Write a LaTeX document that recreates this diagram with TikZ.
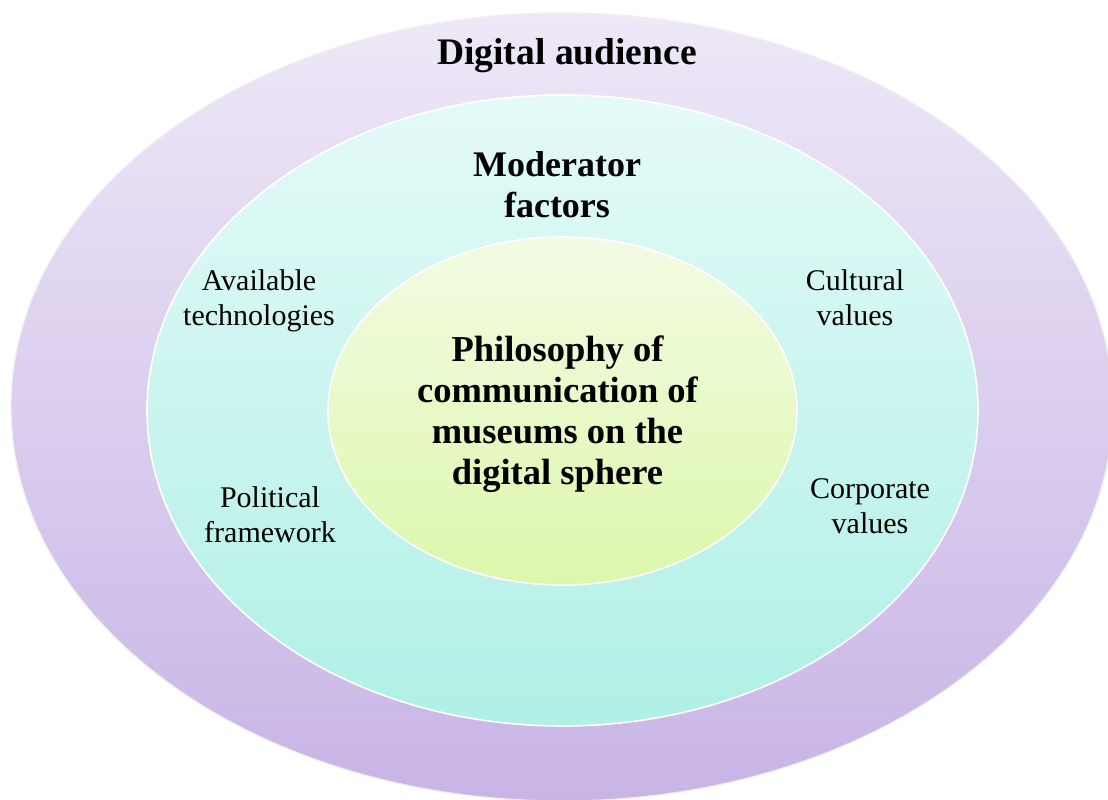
\documentclass[tikz,border=0pt]{standalone}
\usepackage{fontspec}
\setmainfont{Liberation Serif}
\usetikzlibrary{shapes.geometric}
\definecolor{outerTop}{HTML}{EEE8F7}
\definecolor{outerBot}{HTML}{C8B4E6}
\definecolor{midTop}{HTML}{E4FAF7}
\definecolor{midBot}{HTML}{B0F0E6}
\definecolor{innTop}{HTML}{F3FBE3}
\definecolor{innBot}{HTML}{DCF8AC}
\tikzset{
  ring/.style={ellipse, inner sep=0pt, draw=white, line width=1.6pt},
  bigtitle/.style={font=\fontsize{36}{41}\selectfont\bfseries, align=center, inner sep=0pt},
  audtitle/.style={font=\fontsize{37.5}{41}\selectfont\bfseries, inner sep=0pt},
  coretitle/.style={font=\fontsize{36.5}{41.3}\selectfont\bfseries, align=center, inner sep=0pt},
  factor/.style={font=\fontsize{30}{35}\selectfont, align=center, inner sep=0pt}
}
\begin{document}
\begin{tikzpicture}[x=1pt, y=-1pt]
  \useasboundingbox (0,0) rectangle (1108,800);
  \clip (0,0) rectangle (1108,800);
  \fill[white] (0,0) rectangle (1108,800);

  % nested rings
  \node[ring, draw=black!6, line width=1.2pt, top color=outerTop, bottom color=outerBot,
        minimum width=1102pt, minimum height=788pt] (outer) at (562,407) {};
  \node[ring, top color=midTop, bottom color=midBot,
        minimum width=831pt, minimum height=631pt] (middle) at (562.5,410.5) {};
  \node[ring, top color=innTop, bottom color=innBot,
        minimum width=469pt, minimum height=348pt] (inner) at (562.5,411) {};

  % ring titles
  \node[audtitle, anchor=base] (audience) at (567,64) {Digital audience};
  \node[bigtitle] (moderator) at (557,188.3) {\strut Moderator\\\strut factors};
  \node[coretitle] (philosophy) at (557.5,414.7)
    {\strut Philosophy of\\\strut communication of\\\strut museums on the\\\strut digital sphere};

  % moderator factors
  \node[factor] (tech) at (259,300.5) {\strut Available\\\strut technologies};
  \node[factor] (politic) at (270,517.5) {\strut Political\\\strut framework};
  \node[factor] (cultural) at (855,300.5) {\strut Cultural\\\strut values};
  \node[factor] (corporate) at (870,508.5) {\strut Corporate\\\strut values};
\end{tikzpicture}
\end{document}
